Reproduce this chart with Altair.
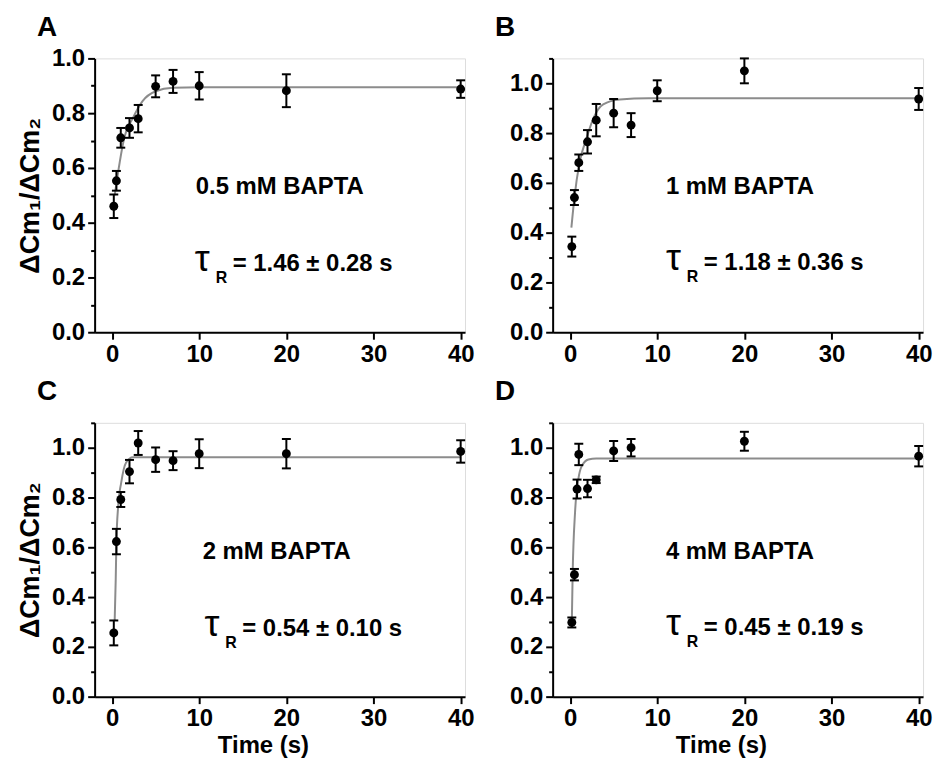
import altair as alt
import pandas as pd

FONT = "Liberation Sans"

# ---------------- data ----------------
panel_letters = ["A", "B", "C", "D"]
bapta_labels = ["0.5 mM BAPTA", "1 mM BAPTA", "2 mM BAPTA", "4 mM BAPTA"]
tau_values = ["= 1.46 ± 0.28 s", "= 1.18 ± 0.36 s", "= 0.54 ± 0.10 s", "= 0.45 ± 0.19 s"]

times_A = [0.2, 0.5, 1, 2, 3, 5, 7, 10, 20, 40]
mean_A = [0.46, 0.553, 0.71, 0.746, 0.78, 0.898, 0.916, 0.90, 0.882, 0.888]
err_A = [0.043, 0.036, 0.036, 0.036, 0.05, 0.04, 0.042, 0.05, 0.06, 0.032]

times_B = [0.2, 0.5, 1, 2, 3, 5, 7, 10, 20, 40]
mean_B = [0.344, 0.541, 0.681, 0.765, 0.852, 0.88, 0.832, 0.97, 1.05, 0.937]
err_B = [0.04, 0.03, 0.033, 0.047, 0.065, 0.057, 0.048, 0.042, 0.05, 0.044]

times_C = [0.2, 0.5, 1, 2, 3, 5, 7, 10, 20, 40]
mean_C = [0.256, 0.623, 0.792, 0.904, 1.019, 0.952, 0.948, 0.976, 0.976, 0.985]
err_C = [0.05, 0.051, 0.03, 0.047, 0.048, 0.049, 0.038, 0.058, 0.059, 0.045]

times_D = [0.2, 0.5, 0.8, 1, 2, 3, 5, 7, 20, 40]
mean_D = [0.298, 0.49, 0.834, 0.973, 0.836, 0.871, 0.987, 1.0, 1.026, 0.966]
err_D = [0.02, 0.023, 0.038, 0.043, 0.035, 0.013, 0.04, 0.035, 0.038, 0.041]

# fitted curves
fit_t_A = [0.3, 0.9, 1.4, 2.4, 3.5, 5, 7, 10, 40]
fit_v_A = [0.50, 0.625, 0.71, 0.783, 0.844, 0.88, 0.893, 0.895, 0.895]
fit_t_B = [0.15, 0.5, 1.05, 1.9, 2.7, 3.8, 5.7, 9, 40]
fit_v_B = [0.42, 0.541, 0.675, 0.781, 0.861, 0.915, 0.935, 0.94, 0.94]
fit_t_C = [0.3, 0.42, 0.5, 0.7, 1.05, 1.6, 2.4, 40]
fit_v_C = [0.305, 0.47, 0.62, 0.765, 0.86, 0.94, 0.962, 0.962]
fit_t_D = [0.2, 0.3, 0.57, 0.95, 1.35, 2.1, 3, 40]
fit_v_D = [0.30, 0.50, 0.74, 0.874, 0.927, 0.953, 0.957, 0.957]

# annotation anchors (data units)
label_x = [9.6, 11.0, 10.4, 11.0]
label_y = [0.505, 0.557, 0.552, 0.554]
tau_x = [9.5, 11.0, 10.6, 11.0]
tau_y = [0.222, 0.248, 0.245, 0.248]
y_max = [1.0, 1.1, 1.1, 1.1]
x_ticks = [0, 10, 20, 30, 40]
y_ticks_10 = [0, 0.1, 0.2, 0.3, 0.4, 0.5, 0.6, 0.7, 0.8, 0.9, 1.0]
y_ticks_11 = y_ticks_10 + [1.1]

Y_TITLE = "ΔCm₁/ΔCm₂"
X_TITLE = "Time (s)"

series = [
    (times_A, mean_A, err_A, fit_t_A, fit_v_A),
    (times_B, mean_B, err_B, fit_t_B, fit_v_B),
    (times_C, mean_C, err_C, fit_t_C, fit_v_C),
    (times_D, mean_D, err_D, fit_t_D, fit_v_D),
]

W, H = 372, 275


def make_panel(i):
    times, means, errs, ft, fv = series[i]
    ymax = y_max[i]
    show_ytitle = i in (0, 2)
    show_xtitle = i in (2, 3)

    pts = pd.DataFrame({"t": times, "v": means, "e": errs})
    fit = pd.DataFrame({"t": ft, "v": fv})

    x_axis = alt.Axis(
        values=x_ticks, format="d", grid=False,
        tickSize=7, tickWidth=2, tickColor="black",
        domainWidth=2, domainColor="black",
        labelFont=FONT, labelFontSize=24, labelFontWeight="bold",
        labelColor="black", labelPadding=3,
        title=X_TITLE if show_xtitle else None,
        titleFont=FONT, titleFontSize=24, titleFontWeight="bold",
        titleColor="black", titlePadding=3, titleX=169, titleAlign="center",
    )
    y_axis = alt.Axis(
        values=y_ticks_10 if ymax <= 1.0 else y_ticks_11,
        labelExpr="round(datum.value*10) % 2 == 1 ? '' : format(datum.value, '.1f')",
        labelOverlap=False, grid=False,
        tickSize={"condition": {"test": "round(datum.value*10) % 2 == 1", "value": 4}, "value": 7},
        tickWidth=2, tickColor="black",
        domainWidth=2, domainColor="black",
        labelFont=FONT, labelFontSize=24, labelFontWeight="bold",
        labelColor="black", labelPadding=3,
        title=Y_TITLE if show_ytitle else None,
        titleFont=FONT, titleFontSize=27, titleFontWeight="bold",
        titleColor="black", titlePadding=7,
    )
    xs = alt.Scale(domain=[-2, 40.5], nice=False, zero=False)
    ys = alt.Scale(domain=[0, ymax], nice=False, zero=True)

    def X(f):
        return alt.X(f, type="quantitative", scale=xs, axis=x_axis)

    def Y(f):
        return alt.Y(f, type="quantitative", scale=ys, axis=y_axis)

    base = alt.Chart(pts).transform_calculate(
        lo="datum.v - datum.e", hi="datum.v + datum.e"
    )
    curve = alt.Chart(fit).mark_line(
        color="#8c8c8c", strokeWidth=2, interpolate="monotone"
    ).encode(x=X("t"), y=Y("v"))
    bars = base.mark_rule(color="black", strokeWidth=2).encode(
        x=X("t"), y=Y("lo"), y2="hi")
    cap_lo = base.mark_tick(orient="horizontal", size=9, thickness=2,
                            color="black", opacity=1).encode(x=X("t"), y=Y("lo"))
    cap_hi = base.mark_tick(orient="horizontal", size=9, thickness=2,
                            color="black", opacity=1).encode(x=X("t"), y=Y("hi"))
    dots = base.mark_circle(size=80, color="black", opacity=1).encode(
        x=X("t"), y=Y("v"))

    lab_df = pd.DataFrame({"t": [label_x[i]], "v": [label_y[i]],
                           "s": [bapta_labels[i]]})
    label = alt.Chart(lab_df).mark_text(
        align="left", baseline="alphabetic", font=FONT, fontSize=24,
        fontWeight="bold", color="black"
    ).encode(x=X("t"), y=Y("v"), text="s")

    tau_df = pd.DataFrame({"t": [tau_x[i]], "v": [tau_y[i]],
                           "sym": ["τ"], "sub": ["R"], "val": [tau_values[i]]})
    tau_sym = alt.Chart(tau_df).mark_text(
        align="left", baseline="alphabetic", font=FONT, fontSize=38,
        color="black"
    ).encode(x=X("t"), y=Y("v"), text="sym")
    tau_sub = alt.Chart(tau_df).mark_text(
        align="left", baseline="alphabetic", font=FONT, fontSize=16,
        fontWeight="bold", color="black", dx=21, dy=12
    ).encode(x=X("t"), y=Y("v"), text="sub")
    tau_val = alt.Chart(tau_df).mark_text(
        align="left", baseline="alphabetic", font=FONT, fontSize=24,
        fontWeight="bold", color="black", dx=38
    ).encode(x=X("t"), y=Y("v"), text="val")

    return alt.layer(
        curve, bars, cap_lo, cap_hi, dots, label, tau_sym, tau_sub, tau_val
    ).properties(
        width=W, height=H,
        title=alt.TitleParams(
            text=panel_letters[i], anchor="start", frame="group",
            dx=-58, offset=5, fontSize=28, font=FONT, fontWeight="bold",
            color="black",
        ),
    )


chart = alt.concat(
    make_panel(0), make_panel(1), make_panel(2), make_panel(3),
    columns=2, spacing={"row": 91, "column": 88}, bounds="flush",
).properties(
    padding={"left": 8, "top": 3, "right": 0, "bottom": 0},
).configure_view(stroke=None).configure(background="white")

chart.save("out.html", embed_options={"renderer": "svg", "actions": False})
